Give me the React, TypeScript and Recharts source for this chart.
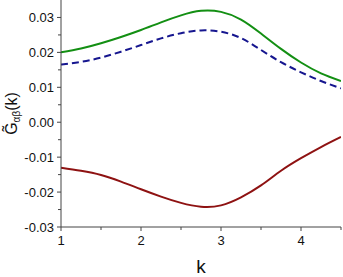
import React from 'react';
import { LineChart, Line, XAxis, YAxis, Label } from 'recharts';

const kValues = [1, 1.25, 1.5, 1.75, 2, 2.25, 2.5, 2.75, 3, 3.25, 3.5, 3.75, 4, 4.25, 4.5];
const gGreen = [0.02, 0.0211, 0.0226, 0.0244, 0.0264, 0.0286, 0.0306, 0.0319, 0.0316, 0.0294, 0.0254, 0.021, 0.0171, 0.0140, 0.0118];
const gBlue = [0.0165, 0.0173, 0.0185, 0.0202, 0.0221, 0.024, 0.0255, 0.0263, 0.0259, 0.0241, 0.0207, 0.0172, 0.0143, 0.0118, 0.0097];
const gRed = [-0.0130, -0.0139, -0.0151, -0.0170, -0.0192, -0.0213, -0.0231, -0.0242, -0.0238, -0.0215, -0.0181, -0.0139, -0.0103, -0.0071, -0.0042];

const xTicks = [1, 1.5, 2, 2.5, 3, 3.5, 4, 4.5];
const xMajor = [1, 2, 3, 4];
const yTicks = [-0.03, -0.025, -0.02, -0.015, -0.01, -0.005, 0, 0.005, 0.01, 0.015, 0.02, 0.025, 0.03];
const yMajor = [-0.03, -0.02, -0.01, 0, 0.01, 0.02, 0.03];

const data = kValues.map((k, i) => ({ k, green: gGreen[i], blue: gBlue[i], red: gRed[i] }));

const FONT = '"Liberation Sans", Arial, sans-serif';
const AXIS = '#444';

const isMajor = (v: number, list: number[]) => list.some((m) => Math.abs(m - v) < 1e-9);

const XTick = (props: any) => {
  const { x, y, payload } = props;
  const major = isMajor(payload.value, xMajor);
  return (
    <g>
      <line x1={x} x2={x} y1={y} y2={y + (major ? 4 : 3)} stroke={AXIS} strokeWidth={1} />
      {major && (
        <text x={x} y={y + 18} textAnchor="middle" fontSize={13} fontFamily={FONT} fill="#111">
          {String(payload.value)}
        </text>
      )}
    </g>
  );
};

const YTick = (props: any) => {
  const { x, y, payload } = props;
  const major = isMajor(payload.value, yMajor);
  return (
    <g>
      <line x1={x} x2={x - (major ? 4 : 3)} y1={y} y2={y} stroke={AXIS} strokeWidth={1} />
      {major && (
        <text x={x - 7} y={y + 4.5} textAnchor="end" fontSize={13} fontFamily={FONT} fill="#111">
          {payload.value.toFixed(2)}
        </text>
      )}
    </g>
  );
};

const YLabel = (props: any) => {
  const vb = props.viewBox || { x: 0, y: 0, width: 61, height: 227 };
  const cx = vb.x + 17;
  const cy = vb.y + vb.height / 2;
  return (
    <text
      x={cx}
      y={cy}
      transform={`rotate(-90 ${cx} ${cy})`}
      textAnchor="middle"
      fontSize={16}
      fontFamily={FONT}
      fill="#111"
    >
      {'G\u0303'}
      <tspan fontSize={10} dy={3}>αβ</tspan>
      <tspan dy={-3}>(k)</tspan>
    </text>
  );
};

export default function App() {
  return (
    <div style={{ position: 'absolute', left: 0, top: 0, background: '#fff' }}>
      <LineChart width={343} height={277} data={data} margin={{ top: 0, right: 2, bottom: 0, left: 0 }}>
        <XAxis
          dataKey="k"
          type="number"
          domain={[1, 4.5]}
          ticks={xTicks}
          interval={0}
          tickSize={0}
          tickMargin={0}
          tickLine={false}
          tick={<XTick />}
          height={50}
          axisLine={{ stroke: AXIS, strokeWidth: 1 }}
          allowDataOverflow
        >
          <Label value="k" position="insideBottom" offset={4} fontSize={19} fill="#111" fontFamily={FONT} />
        </XAxis>
        <YAxis
          type="number"
          domain={[-0.03, 0.035]}
          ticks={yTicks}
          interval={0}
          tickSize={0}
          tickMargin={0}
          tickLine={false}
          tick={<YTick />}
          width={61}
          axisLine={{ stroke: AXIS, strokeWidth: 1 }}
          allowDataOverflow
        >
          <Label content={<YLabel />} />
        </YAxis>
        <Line dataKey="green" type="natural" stroke="#138f13" strokeWidth={2} dot={false} isAnimationActive={false} />
        <Line dataKey="blue" type="natural" stroke="#16168f" strokeWidth={2} strokeDasharray="7 4" dot={false} isAnimationActive={false} />
        <Line dataKey="red" type="natural" stroke="#8e1212" strokeWidth={2} dot={false} isAnimationActive={false} />
      </LineChart>
    </div>
  );
}
